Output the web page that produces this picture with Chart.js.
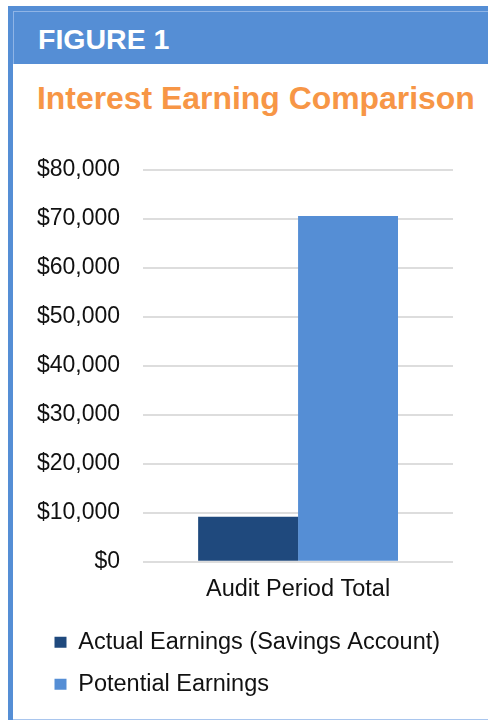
<!DOCTYPE html>
<html>
<head>
<meta charset="utf-8">
<script src="https://cdn.jsdelivr.net/npm/chart.js@4"></script>
<style>
  html, body { margin: 0; padding: 0; background: #fff; }
  body { width: 488px; height: 721px; position: relative; overflow: hidden; font-family: "Liberation Sans", Arial, sans-serif; }
  .strip { position: absolute; left: 8px; top: 6px; width: 5px; height: 714px; background: #558ED5; }
  .header { position: absolute; left: 13px; top: 6px; width: 475px; height: 58px; background: #558ED5; }
  .header .inner { position: absolute; left: 0; top: 5px; right: 0; bottom: 0; border-top: 1px solid #8FB4E6; border-left: 1px solid #8FB4E6; }
  .header span { position: absolute; left: 25px; top: 17px; color: #fff; font-weight: bold; font-size: 28.5px; }
  .bottom { position: absolute; left: 13px; top: 719px; width: 475px; height: 1px; background: #A9C6EE; }
  .title { position: absolute; left: 37px; top: 80px; color: #F79646; font-weight: bold; font-size: 31.9px; white-space: nowrap; }
  #wrap { position: absolute; left: 0; top: 130px; width: 488px; height: 589px; }
</style>
</head>
<body>
<div class="strip"></div>
<div class="header"><div class="inner"></div><span>FIGURE 1</span></div>
<div class="bottom"></div>
<div class="title">Interest Earning Comparison</div>
<div id="wrap"><canvas id="chart"></canvas></div>
<script>
var categories = ['Audit Period Total'];
var seriesNames = ['Actual Earnings (Savings Account)', 'Potential Earnings'];
var actualEarnings = [9200];
var potentialEarnings = [70600];
var yTicks = [0, 10000, 20000, 30000, 40000, 50000, 60000, 70000, 80000];

var font = { family: '"Liberation Sans", Arial, sans-serif', size: 23.5 };

var ctx = document.getElementById('chart').getContext('2d');
new Chart(ctx, {
    type: 'bar',
    data: {
        labels: categories,
        datasets: [
            {
                label: seriesNames[0],
                data: actualEarnings,
                backgroundColor: '#1F497D',
                categoryPercentage: 0.645,
                barPercentage: 1
            },
            {
                label: seriesNames[1],
                data: potentialEarnings,
                backgroundColor: '#558ED5',
                categoryPercentage: 0.645,
                barPercentage: 1
            }
        ]
    },
    options: {
        responsive: true,
        maintainAspectRatio: false,
        animation: false,
        layout: { padding: { left: 36, right: 35, top: 40, bottom: 13 } },
        plugins: {
            tooltip: { enabled: false },
            title: { display: false },
            legend: {
                position: 'bottom',
                align: 'start',
                labels: {
                    color: '#111',
                    font: font,
                    boxWidth: 12,
                    boxHeight: 11,
                    padding: 18.5
                }
            }
        },
        scales: {
            x: {
                grid: { display: false },
                border: { display: false },
                ticks: { color: '#111', font: font, padding: 6 },
                afterFit: function (scale) { scale.height += 2; }
            },
            y: {
                min: 0,
                max: 80000,
                afterBuildTicks: function (scale) {
                    scale.ticks = yTicks.map(function (v) { return { value: v }; });
                },
                afterFit: function (scale) { scale.width -= 22; },
                grid: { color: '#DDDDDD', lineWidth: 2, drawTicks: false },
                border: { display: false },
                ticks: {
                    color: '#111',
                    font: { family: font.family, size: 23 },
                    padding: 23,
                    callback: function (v) { return '$' + v.toLocaleString('en-US'); }
                }
            }
        }
    }
});
</script>
</body>
</html>
